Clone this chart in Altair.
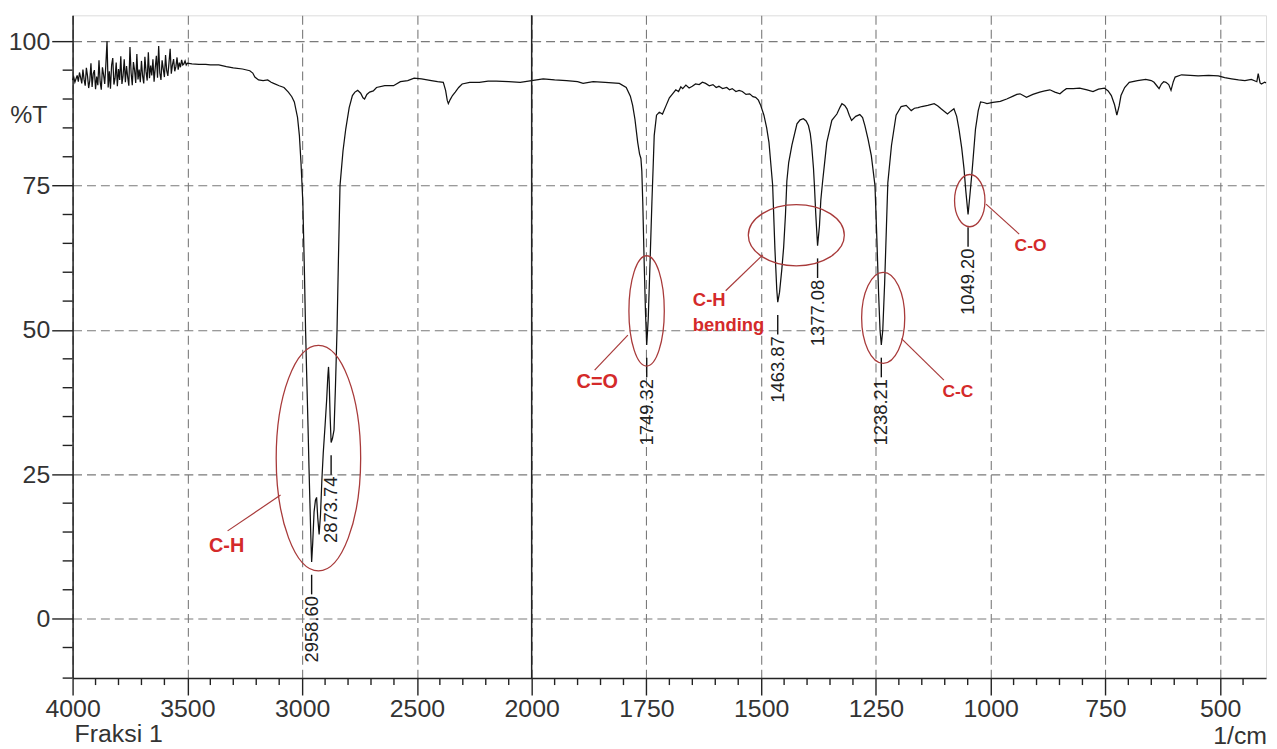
import altair as alt
import pandas as pd

# ---------------- data ----------------
# noisy stretch 4000 -> 3500 cm-1, one reading every 5 cm-1
NOISE_WN = list(range(4000, 3499, -5))
NOISE_T = [
    93.3, 93.8, 92.9, 93.5, 94.1, 93.0, 94.6, 93.7, 92.7, 95.1,
    93.4, 92.3, 95.4, 94.0, 91.9, 93.2, 96.2, 92.1, 94.4, 95.0,
    91.7, 93.9, 92.4, 96.7, 93.0, 91.6, 95.5, 94.2, 92.6, 96.0,
    100.0, 92.0, 94.8, 91.8, 95.9, 97.1, 92.5, 93.6, 96.3, 92.2,
    95.2, 93.3, 97.4, 92.6, 94.1, 96.9, 92.9, 95.7, 93.8, 92.3,
    99.0, 94.5, 92.4, 96.4, 95.0, 92.8, 97.8, 93.4, 95.1, 92.9,
    96.6, 94.0, 92.7, 97.3, 94.7, 93.2, 98.1, 93.6, 95.8, 94.1,
    96.9, 93.0, 95.4, 97.5, 93.7, 99.2, 94.5, 93.3, 96.7, 95.2,
    93.8, 97.6, 94.9, 94.0, 96.3, 98.7, 94.4, 95.9, 96.9, 94.8,
    95.6, 97.2, 95.1, 96.3, 95.5, 96.8, 95.9, 96.1, 96.6, 95.9,
    96.2,
]

MAIN_WN = [
    3480, 3450, 3420, 3400, 3363, 3330, 3300, 3260, 3228, 3215,
    3206, 3190, 3170, 3150, 3135, 3124, 3100, 3079, 3060, 3045,
    3034, 3020, 3012, 3005, 2997, 2990, 2985, 2980, 2974, 2970,
    2966, 2962, 2958.6, 2954, 2948, 2942, 2937, 2932, 2926, 2920,
    2914, 2908, 2900, 2893, 2888, 2885, 2882, 2878, 2873.7, 2868,
    2861, 2855, 2848, 2842, 2835, 2822, 2810, 2795, 2781, 2770,
    2758, 2745, 2735, 2728, 2718, 2706, 2690, 2676, 2640, 2602,
    2572, 2540, 2512, 2480, 2437, 2410, 2385, 2375, 2368, 2363,
    2355, 2345, 2333, 2318, 2303, 2270, 2228, 2190, 2154, 2100,
    2050, 2000,
    1975, 1950, 1924, 1900, 1888, 1866, 1840, 1809, 1794, 1785,
    1780, 1775, 1769, 1765, 1762, 1760, 1758, 1755, 1752, 1749.32,
    1746, 1742, 1738, 1735, 1733, 1728, 1722, 1715, 1707, 1700,
    1693, 1686, 1680, 1675, 1671, 1664, 1657, 1650, 1643, 1635,
    1628, 1621, 1613, 1605, 1598, 1592, 1584, 1575, 1569, 1563,
    1555, 1548, 1541, 1533, 1525, 1518, 1512, 1506, 1501, 1494,
    1488, 1483, 1475, 1470, 1466, 1463.87, 1460, 1455, 1451, 1447,
    1444, 1440, 1433, 1422, 1415, 1408, 1402, 1397, 1393, 1390,
    1386, 1384, 1381, 1377.08, 1373, 1370, 1366, 1361, 1357, 1346,
    1335, 1328, 1324, 1318, 1313, 1308, 1303, 1294, 1285, 1279,
    1274, 1267, 1260, 1252, 1248, 1244, 1241, 1238.21, 1235, 1231,
    1227, 1224, 1216, 1206, 1195, 1184, 1173, 1166, 1158, 1150,
    1137, 1123, 1115, 1108, 1100, 1094, 1087, 1080, 1074, 1069,
    1063, 1058, 1054, 1049.2, 1045, 1040, 1033, 1027, 1022, 1015,
    1008, 995, 979, 965, 951, 943, 936, 929, 922, 908,
    893, 882, 871, 860, 849, 842, 835, 820, 806, 790,
    777, 765, 752, 744, 737, 730, 725, 720, 716, 708,
    698, 680, 662, 650, 644, 638, 633, 628, 623, 618,
    612, 607, 602, 598, 584, 565, 548, 525, 504, 490,
    475, 460, 446, 432, 420, 417, 413, 410, 403, 400,
]
MAIN_T = [
    96.1, 96.0, 96.0, 95.9, 95.9, 95.6, 95.4, 95.2, 94.9, 94.5,
    93.8, 93.3, 93.2, 93.3, 92.9, 92.7, 92.3, 92.0, 91.2, 90.4,
    89.5, 86.8, 83.7, 79.0, 72.2, 60.0, 50.0, 42.0, 32.7, 26.0,
    20.0, 14.0, 9.8, 13.0, 18.5, 20.5, 21.0, 17.5, 14.6, 18.0,
    24.0, 28.7, 33.5, 38.0, 42.0, 43.6, 41.0, 35.0, 30.5, 31.2,
    32.7, 40.0, 50.0, 62.0, 75.0, 81.0, 84.8, 88.5, 90.6, 91.2,
    91.5, 91.0, 90.2, 90.0, 90.8, 91.2, 91.4, 92.0, 92.3, 92.3,
    93.0, 93.2, 93.6, 93.5, 93.2, 93.0, 92.9, 91.5, 89.8, 89.2,
    89.9, 90.6, 91.2, 92.0, 92.6, 92.9, 92.9, 93.1, 93.1, 93.0,
    92.9, 93.2,
    93.5, 93.3, 93.2, 93.0, 92.7, 93.0, 92.9, 92.7, 92.0, 90.5,
    88.9, 86.5, 82.5, 80.5, 79.7, 77.5, 72.2, 62.0, 53.0, 47.4,
    52.0, 62.0, 72.2, 79.0, 83.7, 87.2, 87.7, 87.4, 88.9, 90.2,
    90.9, 91.6, 91.3, 92.1, 91.8, 92.4, 91.9, 92.2, 92.6, 92.5,
    92.9, 92.7, 92.3, 92.5, 92.0, 92.2, 91.8, 92.0, 91.6, 91.8,
    91.3, 91.5, 91.3, 90.8, 90.9, 90.4, 90.3, 89.8, 88.9, 87.2,
    85.0, 82.5, 75.1, 64.0, 57.0, 54.8, 56.5, 60.5, 64.3, 70.0,
    75.8, 79.0, 82.0, 85.7, 86.4, 86.6, 86.2, 85.4, 84.0, 82.0,
    78.0, 75.1, 70.0, 64.6, 68.0, 72.5, 75.8, 79.5, 82.5, 86.3,
    87.4, 88.6, 89.2, 88.9, 88.3, 87.2, 86.3, 87.0, 87.3, 86.8,
    85.4, 83.0, 80.2, 75.0, 66.0, 56.0, 50.0, 47.4, 50.0, 58.0,
    68.0, 75.5, 82.0, 87.2, 88.7, 88.9, 88.0, 88.4, 88.5, 88.7,
    88.9, 89.2, 88.8, 88.3, 87.8, 87.4, 87.9, 88.3, 87.0, 84.8,
    81.5, 77.9, 74.0, 70.0, 73.5, 77.9, 84.8, 88.0, 89.5, 89.4,
    89.2, 89.4, 89.6, 90.0, 90.5, 90.8, 90.9, 90.6, 90.3, 90.8,
    91.2, 91.4, 91.6, 91.2, 90.9, 91.4, 91.8, 91.8, 91.9, 91.6,
    91.3, 91.7, 91.9, 91.4, 90.6, 89.0, 87.2, 88.8, 90.6, 92.0,
    92.9, 93.2, 93.4, 93.2, 92.9, 92.3, 91.8, 92.6, 93.0, 92.9,
    92.5, 91.5, 93.0, 93.8, 94.2, 94.1, 94.0, 94.1, 94.0, 93.7,
    93.5, 93.3, 93.2, 93.4, 93.0, 94.4, 92.8, 92.6, 92.9, 92.8,
]

# peak labels
PEAK_WN = [2958.60, 2873.74, 1749.32, 1463.87, 1377.08, 1238.21, 1049.20]
PEAK_T = [9.8, 30.5, 47.4, 54.8, 64.6, 47.4, 70.0]
PEAK_LABEL = ["2958.60", "2873.74", "1749.32", "1463.87", "1377.08", "1238.21", "1049.20"]

# axis ticks
X_MAJOR = [4000, 3500, 3000, 2500, 2000, 1750, 1500, 1250, 1000, 750, 500]
X_MINOR = [3900, 3800, 3700, 3600, 3400, 3300, 3200, 3100, 2900, 2800, 2700, 2600,
           2400, 2300, 2200, 2100, 1950, 1900, 1850, 1800, 1700, 1650, 1600, 1550,
           1450, 1400, 1350, 1300, 1200, 1150, 1100, 1050, 950, 900, 850, 800,
           700, 650, 600, 550, 450]
Y_MAJOR = [0, 25, 50, 75, 100]
Y_MINOR = [-10.3, -5, 5, 10, 15, 20, 30, 35, 40, 45, 55, 60, 65, 70, 80, 85, 90, 95]

# red annotations: ellipse centres (wavenumber, %T)
ELL_WN = [2929, 1749.6, 1423.4, 1234.1, 1045.5]
ELL_T = [27.8, 53.3, 66.4, 52.1, 72.4]
# leader lines
LEAD_WN1 = [3324.7, 1862.8, 1577.3, 1194.2, 1010.0]
LEAD_T1 = [15.2, 43.05, 56.8, 48.5, 71.8]
LEAD_WN2 = [3094.0, 1790.4, 1496.4, 1101.9, 937.8]
LEAD_T2 = [21.4, 49.1, 63.0, 41.3, 66.6]
# annotation words
BIG_TXT = ["C-H", "C=O"]
BIG_WN = [3329, 1857]
BIG_T = [12.6, 41.0]
SMALL_TXT = ["C-C", "C-O"]
SMALL_WN = [1071.4, 913.1]
SMALL_T = [39.2, 64.6]
BEND_TXT = ["C-H", "bending"]
BEND_WN = [1648.8, 1648.8]
BEND_T = [55.1, 50.8]

# ---------------- chart ----------------
W, H = 1201, 667
FONT = "Liberation Sans"
INK = "#333333"
RED = "#d42a2a"
DARKRED = "#a83a3a"

x_scale = alt.Scale(domain=[4000, 2000, 400], range=[0, 462, W], zero=False, nice=False)
y_scale = alt.Scale(domain=[-10.3, 104.5], zero=False, nice=False)

x_axis = alt.Axis(values=X_MAJOR, format="d", title=None, grid=True, gridDash=[9, 5],
                  gridColor="#7a7a7a", gridWidth=1.1, tickSize=17, tickColor="#222",
                  tickWidth=1.4, domainColor="#222", domainWidth=1.5, labelFont=FONT,
                  labelFontSize=25, labelColor=INK, labelPadding=2, labelOverlap=False,
                  labelFlush=False)
y_axis = alt.Axis(values=Y_MAJOR, format="d", title=None, grid=True, gridDash=[9, 5],
                  gridColor="#7a7a7a", gridWidth=1.1, tickSize=21, tickColor="#222",
                  tickWidth=1.4, domainColor="#222", domainWidth=1.5, labelFont=FONT,
                  labelFontSize=25, labelColor=INK, labelPadding=2, labelOverlap=False,
                  labelFlush=False)


def X(field):
    return alt.X(field, type="quantitative", scale=x_scale, axis=x_axis)


def Y(field):
    return alt.Y(field, type="quantitative", scale=y_scale, axis=y_axis)


spec = pd.DataFrame({"wn": NOISE_WN + MAIN_WN, "t": NOISE_T + MAIN_T})
peaks = pd.DataFrame({"wn": PEAK_WN, "t": PEAK_T, "lab": PEAK_LABEL})

line = alt.Chart(spec).mark_line(color="#111111", strokeWidth=1.25).encode(
    x=X("wn"), y=Y("t"), order=alt.Order("wn:Q", sort="descending"))

split = alt.Chart(pd.DataFrame({"wn": [2000]})).mark_rule(color="#222", strokeWidth=1.5).encode(
    x=X("wn"))

xminor = alt.Chart(pd.DataFrame({"wn": X_MINOR})).mark_rule(color="#222", strokeWidth=1.4).encode(
    x=X("wn"), y=alt.value(H), y2=alt.value(H + 7))
yminor = alt.Chart(pd.DataFrame({"t": Y_MINOR})).mark_rule(color="#222", strokeWidth=1.4).encode(
    y=Y("t"), x=alt.value(-10), x2=alt.value(0))

conn = alt.Chart(peaks).transform_calculate(
    a="datum.t - 2.2", b="datum.t - 5.6").mark_rule(color="#111", strokeWidth=1.4).encode(
    x=X("wn"), y=Y("a:Q"), y2="b:Q")
plabels = alt.Chart(peaks).transform_calculate(c="datum.t - 5.9").mark_text(
    angle=270, align="right", baseline="middle", font=FONT, fontSize=18.5, color="#222").encode(
    x=X("wn"), y=Y("c:Q"), text="lab:N")


# ellipses as custom symbol paths
def ellipse_path(a, b):
    r = max(a, b)
    rx, ry = a / r, b / r
    k = 0.5523
    return (f"M {rx} 0 C {rx} {k*ry} {k*rx} {ry} 0 {ry} "
            f"C {-k*rx} {ry} {-rx} {k*ry} {-rx} 0 "
            f"C {-rx} {-k*ry} {-k*rx} {-ry} 0 {-ry} "
            f"C {k*rx} {-ry} {rx} {-k*ry} {rx} 0 Z"), (2 * r) ** 2


ELL_AXES = [(42.5, 113.5), (17.8, 55.5), (48.3, 30.8), (21.7, 45.8), (15.3, 26.3)]
ell_layers = []
for i, (a, b) in enumerate(ELL_AXES):
    path, size = ellipse_path(a, b)
    ell_layers.append(
        alt.Chart(pd.DataFrame({"wn": [ELL_WN[i]], "t": [ELL_T[i]]})).mark_point(
            shape=path, size=size, filled=False, stroke=DARKRED, strokeWidth=1.3, opacity=1).encode(
            x=X("wn"), y=Y("t")))

leads = alt.Chart(pd.DataFrame({"x1": LEAD_WN1, "y1": LEAD_T1, "x2": LEAD_WN2, "y2": LEAD_T2})
                  ).mark_rule(color=DARKRED, strokeWidth=1.2).encode(
    x=X("x1"), y=Y("y1"), x2="x2", y2="y2")

big = alt.Chart(pd.DataFrame({"wn": BIG_WN, "t": BIG_T, "s": BIG_TXT})).mark_text(
    font=FONT, fontSize=20, fontWeight="bold", color=RED).encode(x=X("wn"), y=Y("t"), text="s:N")
small = alt.Chart(pd.DataFrame({"wn": SMALL_WN, "t": SMALL_T, "s": SMALL_TXT})).mark_text(
    font=FONT, fontSize=17.5, fontWeight="bold", color=RED).encode(x=X("wn"), y=Y("t"), text="s:N")
bend = alt.Chart(pd.DataFrame({"wn": BEND_WN, "t": BEND_T, "s": BEND_TXT})).mark_text(
    font=FONT, fontSize=18.5, fontWeight="bold", color=RED, align="left").encode(
    x=X("wn"), y=Y("t"), text="s:N")

# free texts around the frame
pct = alt.Chart(pd.DataFrame({"s": ["%T"]})).mark_text(
    font=FONT, fontSize=25, color=INK, align="center", baseline="middle").encode(
    x=alt.value(-44), y=alt.value(100), text="s:N")
fraksi = alt.Chart(pd.DataFrame({"s": ["Fraksi 1"]})).mark_text(
    font=FONT, fontSize=25, color=INK, align="left", baseline="middle").encode(
    x=alt.value(2), y=alt.value(723), text="s:N")
unit = alt.Chart(pd.DataFrame({"s": ["1/cm"]})).mark_text(
    font=FONT, fontSize=25, color=INK, align="right", baseline="middle").encode(
    x=alt.value(W + 1), y=alt.value(725), text="s:N")

chart = alt.layer(
    line, split, xminor, yminor, conn, plabels, *ell_layers, leads, big, small, bend,
    pct, fraksi, unit
).properties(
    width=W, height=H,
    padding={"left": 65, "top": 5, "right": 3, "bottom": 69},
    autosize=alt.AutoSizeParams(type="none"),
).configure_view(stroke="#222", strokeWidth=1.5).configure(background="white")

chart.save("out.html", embed_options={"renderer": "svg", "actions": False})
